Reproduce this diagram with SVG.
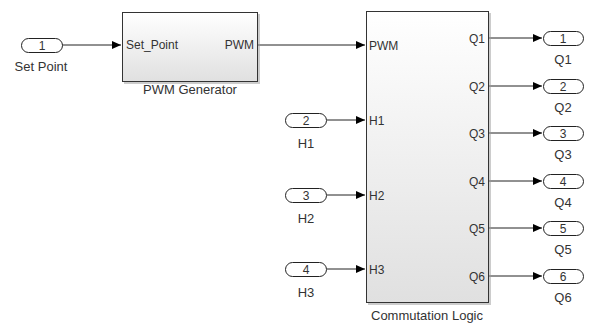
<svg xmlns="http://www.w3.org/2000/svg" width="589" height="325" viewBox="0 0 589 325">
<defs>
<linearGradient id="g" x1="0" y1="0" x2="0" y2="1">
<stop offset="0" stop-color="#ffffff"/>
<stop offset="1" stop-color="#e0e0e0"/>
</linearGradient>
<marker id="ah" markerWidth="10" markerHeight="8" refX="9" refY="4" orient="auto" markerUnits="userSpaceOnUse">
<path d="M0,0 L9,4 L0,8 z" fill="#000"/>
</marker>
</defs>
<style>
text{font-family:"Liberation Sans",Arial,sans-serif;font-size:12px;fill:#333}
.lbl{font-size:13px}
.pill{fill:#fff;stroke:#222;stroke-width:1}
.blk{fill:url(#g);stroke:#333;stroke-width:1}
.sh{fill:#999;opacity:0.5}
.c{fill:none;stroke:#222;stroke-width:1;marker-end:url(#ah)}
.m{text-anchor:middle}
.e{text-anchor:end}
</style>
<g id="connectors">
<path class="c" d="M62,45 H121"/>
<path class="c" d="M258,45 H365"/>
<path class="c" d="M327,120 H365"/>
<path class="c" d="M327,195 H365"/>
<path class="c" d="M327,269 H365"/>
<path class="c" d="M489,38 H542"/>
<path class="c" d="M489,86 H542"/>
<path class="c" d="M489,133 H542"/>
<path class="c" d="M489,181 H542"/>
<path class="c" d="M489,228 H542"/>
<path class="c" d="M489,276 H542"/>
</g>
<g id="in1">
<rect class="pill" x="21.5" y="38.5" width="41" height="14" rx="7"/>
<text class="m" x="42" y="50">1</text>
<text class="m lbl" x="41" y="71">Set Point</text>
</g>
<g id="pwmgen">
<rect class="sh" x="124" y="14" width="136" height="70"/>
<rect class="blk" x="122.5" y="12.5" width="135" height="69"/>
<text x="126" y="49">Set_Point</text>
<text class="e" x="254" y="49">PWM</text>
<text class="m lbl" x="190" y="94">PWM Generator</text>
</g>
<g id="commlogic">
<rect class="sh" x="368" y="13" width="123" height="292"/>
<rect class="blk" x="366.5" y="11.5" width="122" height="291"/>
<text x="369" y="49.5">PWM</text>
<text x="369" y="124.5">H1</text>
<text x="369" y="199.5">H2</text>
<text x="369" y="273.5">H3</text>
<text class="e" x="485" y="42.5">Q1</text>
<text class="e" x="485" y="90.5">Q2</text>
<text class="e" x="485" y="137.5">Q3</text>
<text class="e" x="485" y="185.5">Q4</text>
<text class="e" x="485" y="232.5">Q5</text>
<text class="e" x="485" y="280.5">Q6</text>
<text class="m lbl" x="427" y="319.5">Commutation Logic</text>
</g>
<g id="in2">
<rect class="pill" x="285.5" y="113.5" width="41" height="14" rx="7"/>
<text class="m" x="306" y="125">2</text>
<text class="m lbl" x="306" y="147.5">H1</text>
</g>
<g id="in3">
<rect class="pill" x="285.5" y="188.5" width="41" height="14" rx="7"/>
<text class="m" x="306" y="200">3</text>
<text class="m lbl" x="306" y="222.5">H2</text>
</g>
<g id="in4">
<rect class="pill" x="285.5" y="262.5" width="41" height="14" rx="7"/>
<text class="m" x="306" y="274">4</text>
<text class="m lbl" x="306" y="296.5">H3</text>
</g>
<g id="out1">
<rect class="pill" x="543.5" y="31.5" width="40" height="14" rx="7"/>
<text class="m" x="563" y="43">1</text>
<text class="m lbl" x="563" y="64">Q1</text>
</g>
<g id="out2">
<rect class="pill" x="543.5" y="79.5" width="40" height="14" rx="7"/>
<text class="m" x="563" y="91">2</text>
<text class="m lbl" x="563" y="112">Q2</text>
</g>
<g id="out3">
<rect class="pill" x="543.5" y="126.5" width="40" height="14" rx="7"/>
<text class="m" x="563" y="138">3</text>
<text class="m lbl" x="563" y="159">Q3</text>
</g>
<g id="out4">
<rect class="pill" x="543.5" y="174.5" width="40" height="14" rx="7"/>
<text class="m" x="563" y="186">4</text>
<text class="m lbl" x="563" y="207">Q4</text>
</g>
<g id="out5">
<rect class="pill" x="543.5" y="221.5" width="40" height="14" rx="7"/>
<text class="m" x="563" y="233">5</text>
<text class="m lbl" x="563" y="254">Q5</text>
</g>
<g id="out6">
<rect class="pill" x="543.5" y="269.5" width="40" height="14" rx="7"/>
<text class="m" x="563" y="281">6</text>
<text class="m lbl" x="563" y="302">Q6</text>
</g>
</svg>
